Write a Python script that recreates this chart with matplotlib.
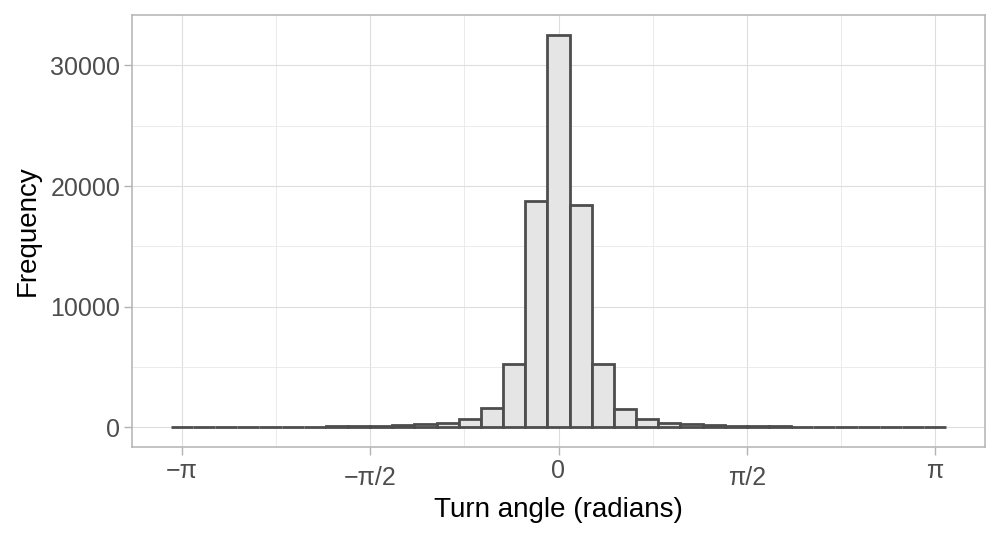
import numpy as np
import matplotlib
matplotlib.use("Agg")
import matplotlib.pyplot as plt
from matplotlib.transforms import ScaledTranslation

plt.rcParams['font.family'] = ['Liberation Sans', 'DejaVu Sans']

# 35 bins centred on k * width, k = -17..17 (width = 2*pi/34)
bin_index = list(range(-17, 18))
counts = [30, 35, 40, 45, 50, 60, 70, 85, 100, 125, 175, 250, 370, 660, 1570, 5290, 18750,
          32550,
          18430, 5240, 1550, 660, 360, 250, 175, 125, 100, 85, 70, 60, 50, 45, 40, 35, 30]
tick_values = [-np.pi, -np.pi / 2, 0, np.pi / 2, np.pi]
tick_labels = ["\u2212\u03c0", "\u2212\u03c0/2", "0", "\u03c0/2", "\u03c0"]
y_ticks = [0, 10000, 20000, 30000]
y_tick_labels = ["0", "10000", "20000", "30000"]

width = 2 * np.pi / 34
centers = np.array(bin_index) * width

fig = plt.figure(figsize=(10, 5.39), dpi=100)
ax = fig.add_axes([0.132, 1 - 447 / 539, 0.985 - 0.132, (447 - 15) / 539])

ax.bar(centers, counts, width=width, color="#E5E5E5", edgecolor="#4D4D4D",
       linewidth=2.0, zorder=3, align="center")

lo, hi = centers[0] - width / 2, centers[-1] + width / 2
ex = (hi - lo) * 0.05
ax.set_xlim(lo - ex, hi + ex)
ymax = max(counts)
ax.set_ylim(-ymax * 0.05, ymax * 1.05)

ax.set_xticks(tick_values)
ax.set_xticklabels(tick_labels)
ax.set_xticks([-3 * np.pi / 4, -np.pi / 4, np.pi / 4, 3 * np.pi / 4], minor=True)
ax.set_yticks(y_ticks)
ax.set_yticklabels(y_tick_labels)
ax.set_yticks([5000, 15000, 25000], minor=True)

ax.grid(True, which="major", color="#DEDEDE", linewidth=0.8, zorder=0)
ax.grid(True, which="minor", color="#E8E8E8", linewidth=0.6, zorder=0)
ax.set_axisbelow(True)

for s in ax.spines.values():
    s.set_color("#B3B3B3")
    s.set_linewidth(1.1)

ax.tick_params(which="major", length=6, width=1.0, color="#B3B3B3",
               labelcolor="#4D4D4D", labelsize=18, pad=2.5)
ax.tick_params(which="minor", length=0)

for lab in ax.get_xticklabels():
    if "/2" in lab.get_text():
        lab.set_transform(lab.get_transform() + ScaledTranslation(0, -7 / 100, fig.dpi_scale_trans))

ax.set_xlabel("Turn angle (radians)", fontsize=20, color="black", labelpad=5)
ax.set_ylabel("Frequency", fontsize=20, color="black", labelpad=7)

fig.savefig("out.png", dpi=100)
